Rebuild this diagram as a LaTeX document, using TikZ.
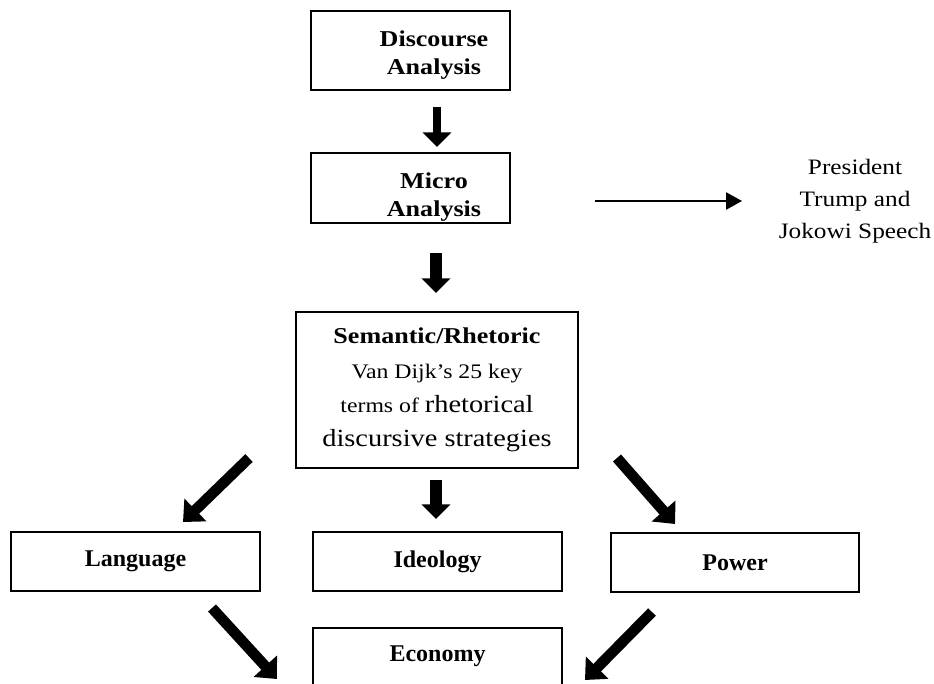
\documentclass[tikz,border=0pt]{standalone}
\usepackage{fontspec}
\setmainfont[FakeStretch=1.15]{Liberation Serif}
\newfontfamily\plainserif{Liberation Serif}
\usetikzlibrary{arrows.meta}
\begin{document}
\begin{tikzpicture}[x=0.75pt,y=-0.75pt,
  box/.style={draw,line width=1.5pt,rectangle,inner sep=0pt,align=center},
  toptext/.style={align=center,inner sep=0pt,font=\fontsize{17}{21}\selectfont\bfseries},
  lowbox/.style={box,minimum width=186.75pt,minimum height=44.25pt,font=\plainserif\fontsize{18}{21}\selectfont\bfseries},
  fat/.style={line width=#1,-{Triangle[length=11pt,width=21pt]}},
  fatdiag/.style={line width=8pt,-{Triangle[length=13pt,width=23pt]}},
  thinarrow/.style={line width=1.1pt,-{Triangle[length=12pt,width=13pt]}}
]
\useasboundingbox (0,0) rectangle (934,683);
\clip (0,0) rectangle (934,683);

% boxes
\node[box,minimum width=149.25pt,minimum height=59.25pt] (disc) at (410,50.5) {};
\node[toptext] (disctext) at (434,55) {Discourse\\Analysis};
\node[box,minimum width=149.25pt,minimum height=52.5pt] (micro) at (410,188) {};
\node[toptext] (microtext) at (434,197) {Micro\\Analysis};
\node[box,minimum width=211.5pt,minimum height=117pt,font=\fontsize{16}{25.7}\selectfont] (sem) at (437,390)
  {{\bfseries\fontsize{17}{25.7}\selectfont Semantic/Rhetoric}\\
   {\fontsize{15.5}{25.7}\selectfont Van Dijk’s 25 key}\\
   {\fontsize{15.5}{25.7}\selectfont terms of }{\fontsize{18.5}{25.7}\selectfont rhetorical}\\
   {\fontsize{18.5}{25.7}\selectfont discursive strategies}};
\node[lowbox] (lang) at (135.5,561) {Language};
\node[lowbox] (ideo) at (437.5,561.5) {Ideology};
\node[lowbox,minimum width=186pt] (power) at (735,562.5) {Power};
\node[lowbox,minimum height=42.75pt] (econ) at (437.5,656.5) {Economy};

% side text
\node[align=center,font=\fontsize{16.5}{24}\selectfont] (pres) at (855,201) {President\\Trump and\\Jokowi Speech};

% arrow end points
\coordinate (v1s) at (437,107); \coordinate (v1e) at (437,147);
\coordinate (v2s) at (436,253); \coordinate (v2e) at (436,293);
\coordinate (v3s) at (436,480); \coordinate (v3e) at (436,519);
\coordinate (dls) at (249,458); \coordinate (dle) at (183,522);
\coordinate (drs) at (617,458); \coordinate (dre) at (675,524);
\coordinate (lls) at (212,608); \coordinate (lle) at (277,679);
\coordinate (lrs) at (652,612); \coordinate (lre) at (585,680);
\coordinate (ts) at (595,201); \coordinate (te) at (742,201);

% arrows
\draw[fat=6pt] (v1s) -- (v1e);
\draw[fat=9pt] (v2s) -- (v2e);
\draw[fat=9pt] (v3s) -- (v3e);
\draw[fatdiag] (dls) -- (dle);
\draw[fatdiag] (drs) -- (dre);
\draw[fatdiag] (lls) -- (lle);
\draw[fatdiag] (lrs) -- (lre);
\draw[thinarrow] (ts) -- (te);
\end{tikzpicture}
\end{document}
